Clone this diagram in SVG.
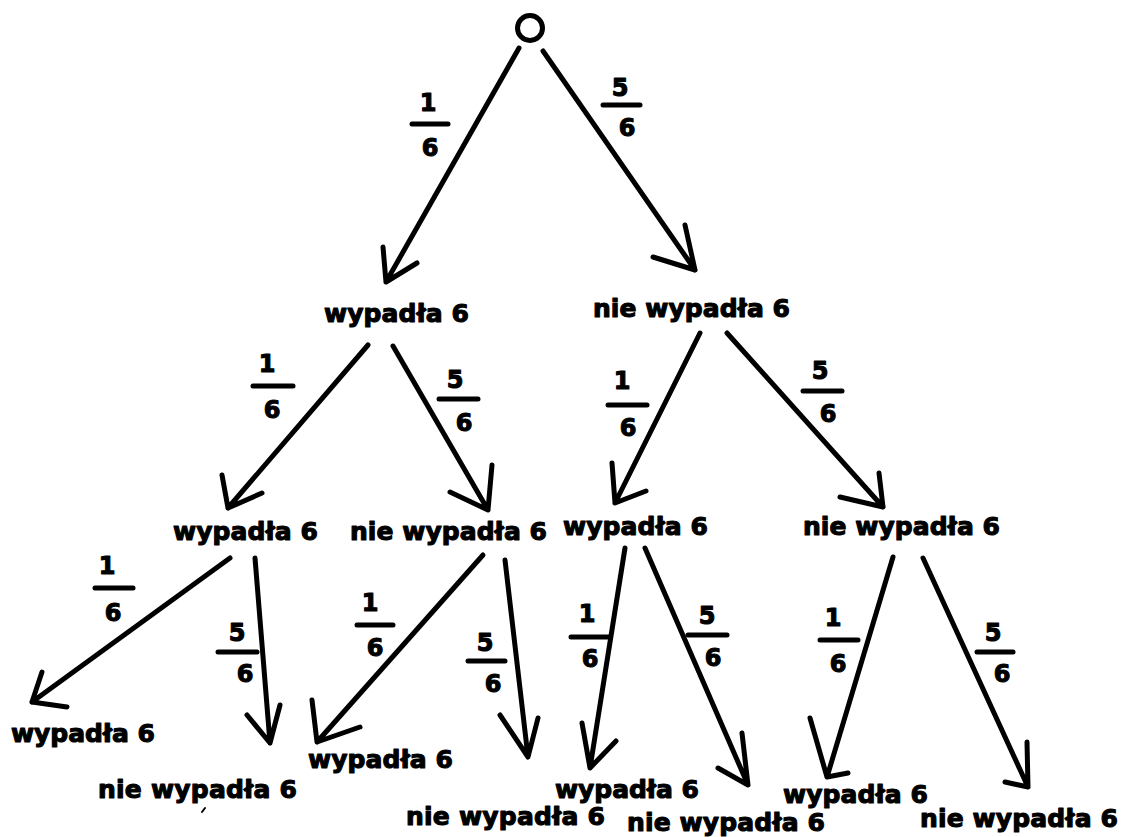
<svg xmlns="http://www.w3.org/2000/svg" width="1122" height="837" viewBox="0 0 1122 837">
<style>
.lbl{font-family:"DejaVu Sans","Liberation Sans",sans-serif;font-weight:bold;font-size:25px;fill:#000;stroke:#000;stroke-width:1.1px;stroke-linejoin:round}
.num{font-family:"DejaVu Sans","Liberation Sans",sans-serif;font-weight:bold;font-size:24px;fill:#000;stroke:#000;stroke-width:1.1px;stroke-linejoin:round;text-anchor:middle}
.ln{stroke:#000;stroke-width:5;stroke-linecap:round;stroke-linejoin:round;fill:none}
.bar{stroke:#000;stroke-width:5;stroke-linecap:round}
</style>
<rect width="1122" height="837" fill="#fff"/>
<g id="root"><circle cx="530" cy="28" r="12.5" fill="none" stroke="#000" stroke-width="5"/></g>

<g id="n1"><text class="lbl" x="324" y="322" textLength="145" lengthAdjust="spacing">wypadła 6</text></g>
<g id="n2"><text class="lbl" x="593" y="317" textLength="197" lengthAdjust="spacing">nie wypadła 6</text></g>
<g id="n11"><text class="lbl" x="173" y="540" textLength="145" lengthAdjust="spacing">wypadła 6</text></g>
<g id="n12"><text class="lbl" x="350" y="540" textLength="197" lengthAdjust="spacing">nie wypadła 6</text></g>
<g id="n21"><text class="lbl" x="563" y="535" textLength="145" lengthAdjust="spacing">wypadła 6</text></g>
<g id="n22"><text class="lbl" x="803" y="535" textLength="197" lengthAdjust="spacing">nie wypadła 6</text></g>
<g id="n111"><text class="lbl" x="11" y="742" textLength="144" lengthAdjust="spacing">wypadła 6</text></g>
<g id="n112"><text class="lbl" x="98" y="798" textLength="199" lengthAdjust="spacing">nie wypadła 6</text></g>
<g id="n121"><text class="lbl" x="308" y="768" textLength="145" lengthAdjust="spacing">wypadła 6</text></g>
<g id="n122"><text class="lbl" x="406" y="825" textLength="199" lengthAdjust="spacing">nie wypadła 6</text></g>
<g id="n211"><text class="lbl" x="555" y="798" textLength="144" lengthAdjust="spacing">wypadła 6</text></g>
<g id="n212"><text class="lbl" x="627" y="831" textLength="198" lengthAdjust="spacing">nie wypadła 6</text></g>
<g id="n221"><text class="lbl" x="783" y="803" textLength="145" lengthAdjust="spacing">wypadła 6</text></g>
<g id="n222"><text class="lbl" x="920" y="827" textLength="198" lengthAdjust="spacing">nie wypadła 6</text></g>

<g id="connectors">
<path class="ln" d="M519 48 L386 282 M383 247 L386 282 L417 263"/>
<path class="ln" d="M543 51 L695 270 M685 225 L695 270 L653 257"/>
<path class="ln" d="M368 345 L228 508 M222 475 L228 508 L262 493"/>
<path class="ln" d="M393 346 L488 510 M492 465 L488 510 L450 492"/>
<path class="ln" d="M700 333 L615 503 M612 463 L615 503 L646 491"/>
<path class="ln" d="M727 333 L883 507 M879 473 L883 507 L840 497"/>
<path class="ln" d="M230 558 L32 702 M42 672 L32 702 L67 707"/>
<path class="ln" d="M255 558 L270 743 M247 715 L270 743 L280 705"/>
<path class="ln" d="M483 555 L317 742 M312 700 L317 742 L360 727"/>
<path class="ln" d="M505 560 L528 757 M500 715 L528 757 L538 718"/>
<path class="ln" d="M625 548 L590 768 M582 723 L590 768 L616 741"/>
<path class="ln" d="M645 548 L748 785 M742 733 L748 785 L718 768"/>
<path class="ln" d="M893 557 L827 777 M810 718 L827 777 L848 773"/>
<path class="ln" d="M923 558 L1028 787 M1027 742 L1028 787 L1005 782"/>
</g>

<g id="labels">
<text class="num" x="428" y="111">1</text><line class="bar" x1="412" y1="124" x2="448" y2="124"/><text class="num" x="430" y="156">6</text>
<text class="num" x="620" y="96">5</text><line class="bar" x1="603" y1="105" x2="640" y2="105"/><text class="num" x="627" y="136">6</text>
<text class="num" x="267" y="372">1</text><line class="bar" x1="253" y1="386" x2="293" y2="386"/><text class="num" x="272" y="418">6</text>
<text class="num" x="455" y="388">5</text><line class="bar" x1="439" y1="399" x2="478" y2="399"/><text class="num" x="464" y="431">6</text>
<text class="num" x="622" y="389">1</text><line class="bar" x1="608" y1="405" x2="647" y2="405"/><text class="num" x="628" y="436">6</text>
<text class="num" x="820" y="379">5</text><line class="bar" x1="803" y1="391" x2="842" y2="391"/><text class="num" x="828" y="422">6</text>
<text class="num" x="107" y="574">1</text><line class="bar" x1="95" y1="588" x2="133" y2="588"/><text class="num" x="113" y="621">6</text>
<text class="num" x="237" y="641">5</text><line class="bar" x1="218" y1="652" x2="257" y2="652"/><text class="num" x="245" y="682">6</text>
<text class="num" x="370" y="611">1</text><line class="bar" x1="357" y1="625" x2="393" y2="625"/><text class="num" x="375" y="656">6</text>
<text class="num" x="485" y="651">5</text><line class="bar" x1="468" y1="661" x2="505" y2="661"/><text class="num" x="493" y="692">6</text>
<text class="num" x="587" y="622">1</text><line class="bar" x1="571" y1="637" x2="610" y2="637"/><text class="num" x="590" y="667">6</text>
<text class="num" x="707" y="624">5</text><line class="bar" x1="688" y1="635" x2="727" y2="635"/><text class="num" x="713" y="666">6</text>
<text class="num" x="833" y="626">1</text><line class="bar" x1="820" y1="640" x2="858" y2="640"/><text class="num" x="838" y="672">6</text>
<text class="num" x="993" y="641">5</text><line class="bar" x1="977" y1="652" x2="1013" y2="652"/><text class="num" x="1002" y="682">6</text>
</g>
<path d="M202 812 L205 808" stroke="#000" stroke-width="2" stroke-linecap="round"/>
</svg>
